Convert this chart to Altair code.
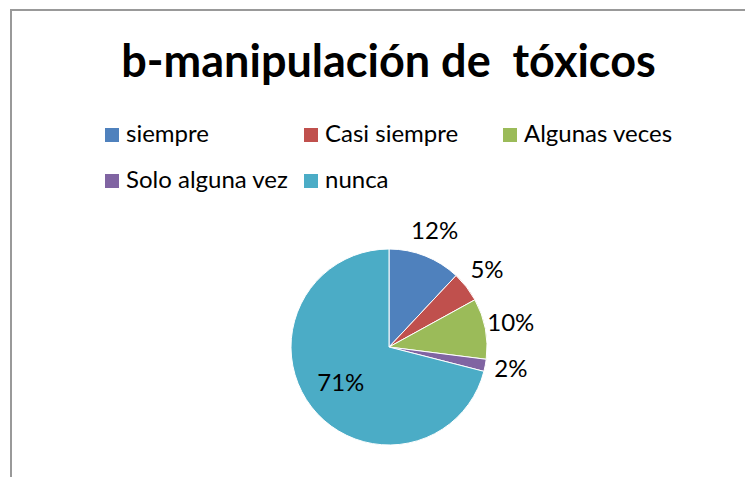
import altair as alt
import pandas as pd

categories = ["siempre", "Casi siempre", "Algunas veces", "Solo alguna vez", "nunca"]
values = [12, 5, 10, 2, 71]
colors = ["#4F81BD", "#C0504D", "#9BBB59", "#8064A2", "#4BACC6"]
title_text = "b-manipulación de \u00a0tóxicos"

df = pd.DataFrame({
    "categoria": categories,
    "valor": values,
    "orden": list(range(len(categories))),
    "etiqueta": [f"{v}%" for v in values],
})

FONT = "Lato"
CX, CY = 381, 339

base = alt.Chart(df).encode(
    theta=alt.Theta("valor:Q", stack=True),
    order=alt.Order("orden:Q"),
    x=alt.value(CX),
    y=alt.value(CY),
)

border = alt.Chart(df).mark_rect(fill=None, stroke="#999999", strokeWidth=2).encode(
    x=alt.value(3), y=alt.value(2), x2=alt.value(900), y2=alt.value(900)
)

pie = base.mark_arc(outerRadius=98, stroke="white", strokeWidth=1).encode(
    color=alt.Color(
        "categoria:N",
        scale=alt.Scale(domain=categories, range=colors),
        sort=categories,
        legend=alt.Legend(
            title=None,
            orient="none",
            legendX=92,
            legendY=115,
            direction="horizontal",
            columns=3,
            gridAlign="all",
            columnPadding=10,
            rowPadding=22,
            symbolType="square",
            symbolSize=196,
            symbolStrokeWidth=0,
            labelFont=FONT,
            labelFontSize=24,
            labelColor="black",
            labelOffset=2,
            labelLimit=400,
        ),
    )
)

outer = base.mark_text(radius=124, font=FONT, fontSize=24, color="black").encode(
    text=alt.condition("datum.valor < 50", alt.Text("etiqueta:N"), alt.value(""))
)
inner = base.mark_text(radius=61, font=FONT, fontSize=24, color="black").encode(
    text=alt.condition("datum.valor >= 50", alt.Text("etiqueta:N"), alt.value(""))
)

chart = alt.layer(border, pie, outer, inner).properties(
    width=737,
    height=469,
    autosize="none",
    padding=0,
    background="white",
    title=alt.Title(
        title_text,
        font=FONT,
        fontSize=45,
        fontWeight="bold",
        color="black",
        anchor="middle",
        frame="group",
        baseline="alphabetic",
        dx=12,
        dy=118,
    ),
).configure_view(stroke=None)

chart.save("out.html", embed_options={"renderer": "svg", "actions": False})
